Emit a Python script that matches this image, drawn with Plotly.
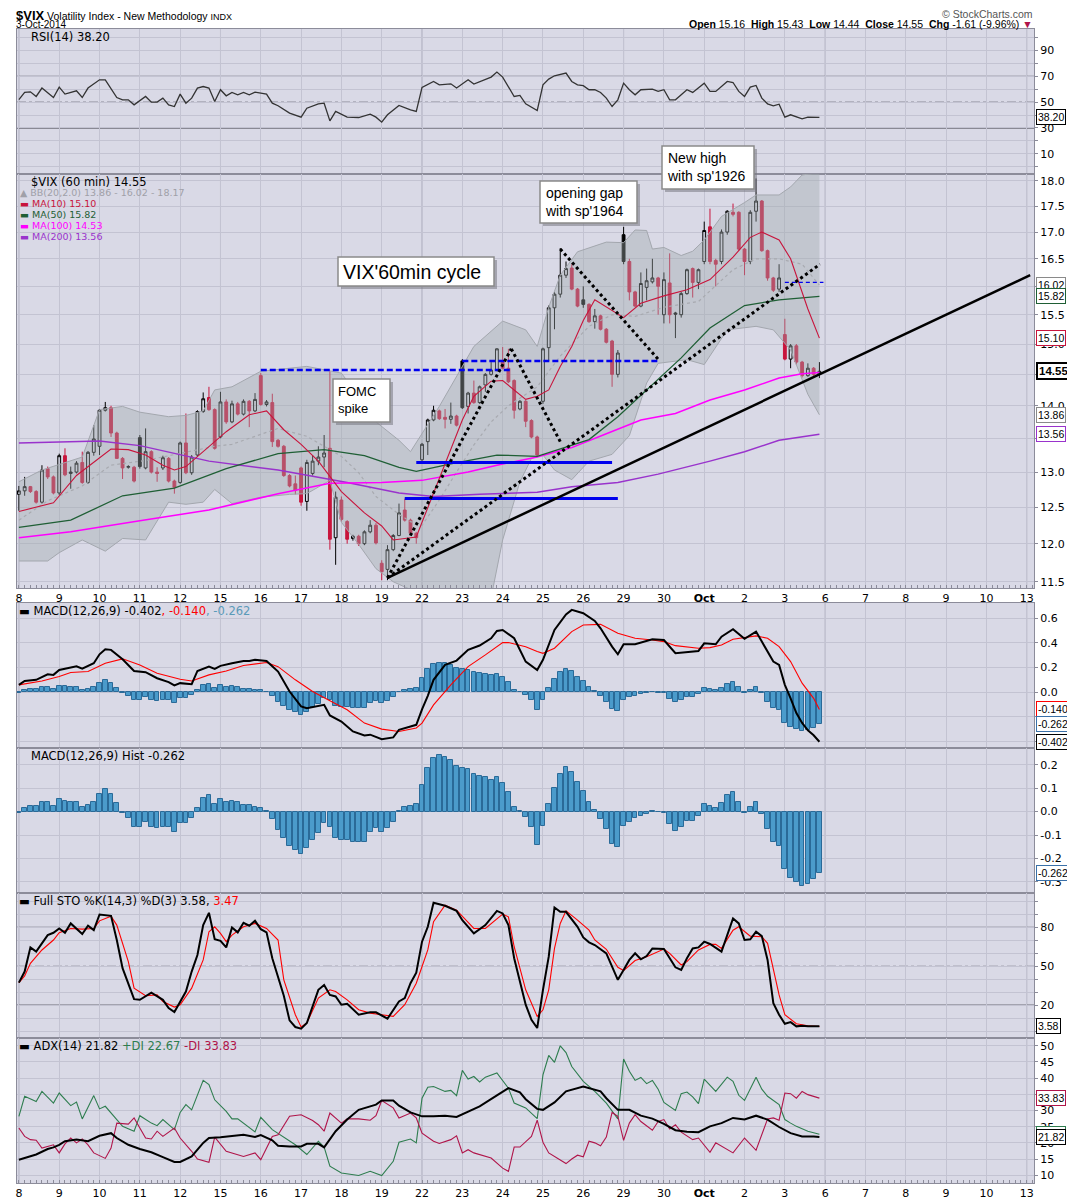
import math
import plotly.graph_objects as go

# ---- values: $VIX 60 min bars, 8-Sep-2014 .. 3-Oct-2014 ----
BARS_PER_DAY = 7
day_labels = ["8", "9", "10", "11", "12", "15", "16", "17", "18", "19",
              "22", "23", "24", "25", "26", "29", "30", "<b>Oct</b>", "2", "3",
              "6", "7", "8", "9", "10", "13"]
week_starts = [0, 5, 10, 15, 20, 25]   # day index of the Mondays

opens = [12.68, 12.73, 12.79, 12.72, 12.57, 13.05, 12.93, 12.70, 13.24, 12.98,
         13.00, 13.14, 12.85, 13.29, 13.38, 13.93, 13.97, 13.58, 13.20, 13.07,
         13.07, 13.51, 13.06, 13.30, 13.00, 13.06, 13.20, 12.87, 12.85, 13.43,
         12.99, 13.25, 13.91, 14.13, 13.94, 13.52, 14.06, 13.75, 14.03, 13.87,
         14.07, 13.92, 14.48, 14.02, 14.05, 13.47, 13.38, 12.95, 12.83, 13.06,
         12.58, 12.98, 13.16, 13.22, 13.35, 12.08, 12.60, 12.30, 12.07, 12.10,
         12.00, 12.16, 12.25, 11.74, 11.66, 11.92, 12.11, 12.46, 12.32, 12.14,
         13.18, 13.45, 13.78, 13.92, 13.82, 13.79, 13.84, 14.72, 13.99, 14.20,
         14.05, 14.33, 14.50, 14.57, 14.70, 14.60, 14.40, 13.95, 14.07, 13.77,
         13.52, 14.07, 14.94, 15.62, 15.86, 16.20, 16.33, 15.95, 15.76, 15.68,
         15.38, 15.48, 15.25, 15.05, 14.50, 16.95, 16.45, 15.90, 15.65, 15.98,
         16.08, 16.15, 15.50, 16.06, 15.53, 15.50, 15.87, 16.32, 16.07, 16.45,
         17.10, 16.47, 16.45, 17.00, 17.38, 17.38, 16.68, 16.45, 17.40, 17.60,
         16.65, 16.15, 15.95, 15.16, 14.75, 14.97, 14.70, 14.48, 14.60, 14.50]
highs = [12.80, 12.93, 12.80, 12.74, 13.10, 13.08, 12.95, 13.27, 13.35, 13.08,
         13.16, 13.30, 13.31, 13.70, 13.95, 14.06, 14.00, 13.60, 13.22, 13.10,
         13.09, 13.55, 13.65, 13.32, 13.07, 13.24, 13.22, 12.89, 13.45, 13.88,
         13.25, 13.93, 14.21, 14.30, 13.96, 14.22, 14.10, 14.08, 14.06, 14.10,
         14.09, 14.20, 14.52, 14.09, 14.19, 13.49, 13.40, 12.97, 12.95, 13.08,
         13.18, 13.25, 13.38, 13.55, 14.55, 12.72, 12.65, 12.32, 12.12, 12.12,
         12.18, 12.32, 12.28, 11.78, 11.98, 12.13, 12.55, 12.62, 12.34, 12.16,
         13.43, 13.80, 14.00, 13.94, 13.95, 14.05, 13.86, 14.75, 14.22, 14.40,
         14.32, 14.52, 14.70, 14.93, 14.95, 14.92, 14.42, 14.09, 14.09, 13.79,
         13.54, 14.94, 15.66, 15.90, 16.70, 16.45, 16.40, 15.97, 16.00, 15.70,
         15.60, 15.50, 15.27, 15.07, 14.90, 17.10, 16.50, 15.92, 16.25, 16.32,
         16.50, 16.17, 16.25, 16.60, 15.55, 15.90, 16.32, 16.34, 16.32, 17.20,
         17.45, 16.50, 17.05, 17.42, 17.55, 17.40, 16.70, 17.42, 18.05, 17.62,
         16.67, 16.17, 16.40, 15.43, 15.00, 15.00, 14.72, 14.68, 14.62, 14.70]
lows = [12.45, 12.66, 12.70, 12.55, 12.55, 12.90, 12.68, 12.67, 12.94, 12.76,
        12.98, 12.83, 12.83, 13.24, 13.25, 13.91, 13.52, 13.20, 12.90, 13.05,
        12.85, 13.05, 13.04, 12.98, 12.86, 13.03, 12.85, 12.69, 12.83, 12.97,
        12.96, 13.22, 13.89, 13.92, 13.33, 13.50, 13.72, 13.73, 13.85, 13.85,
        13.67, 13.90, 14.00, 13.99, 13.37, 13.36, 12.93, 12.78, 12.68, 12.52,
        12.45, 12.95, 13.10, 13.07, 11.92, 11.72, 12.30, 12.00, 12.04, 11.97,
        11.98, 12.14, 11.99, 11.52, 11.52, 11.90, 12.10, 12.30, 12.12, 12.00,
        13.12, 13.25, 13.76, 13.78, 13.65, 13.72, 13.68, 13.95, 13.88, 14.03,
        14.03, 14.22, 14.48, 14.55, 14.58, 14.36, 13.80, 13.93, 13.67, 13.50,
        13.23, 14.03, 14.72, 15.25, 15.80, 16.15, 15.93, 15.63, 15.62, 15.36,
        15.26, 15.23, 15.01, 14.30, 14.45, 16.40, 15.75, 15.63, 15.63, 15.75,
        16.05, 15.50, 15.35, 15.35, 15.10, 15.45, 15.85, 15.80, 15.95, 16.40,
        16.40, 16.00, 16.40, 16.95, 17.30, 16.65, 16.20, 16.40, 17.20, 16.63,
        16.10, 15.90, 15.90, 14.73, 14.60, 14.66, 14.45, 14.46, 14.47, 14.44]
closes = [12.73, 12.79, 12.72, 12.57, 13.03, 12.93, 12.70, 13.24, 12.96, 13.00,
          13.13, 12.85, 13.29, 13.49, 13.93, 13.97, 13.58, 13.20, 13.06, 13.08,
          12.87, 13.08, 13.30, 13.00, 12.98, 13.21, 12.87, 12.78, 13.43, 12.99,
          13.22, 13.91, 14.11, 13.94, 13.35, 14.06, 13.75, 14.03, 13.87, 14.07,
          13.92, 14.10, 14.02, 14.06, 13.45, 13.38, 12.95, 12.80, 12.74, 12.57,
          13.14, 13.16, 13.22, 13.28, 12.06, 12.64, 12.33, 12.06, 12.10, 12.00,
          12.16, 12.25, 12.01, 11.63, 11.92, 12.11, 12.42, 12.32, 12.14, 12.08,
          13.41, 13.78, 13.93, 13.80, 13.79, 13.84, 13.70, 13.97, 14.20, 14.05,
          14.30, 14.50, 14.57, 14.92, 14.60, 14.38, 13.93, 14.07, 13.76, 13.52,
          13.25, 14.92, 15.62, 15.86, 16.20, 16.32, 15.95, 15.65, 15.68, 15.38,
          15.48, 15.25, 15.03, 14.50, 14.85, 16.45, 15.90, 15.65, 16.05, 16.10,
          16.15, 16.00, 16.12, 15.50, 15.51, 15.87, 16.30, 16.07, 16.30, 17.03,
          16.45, 16.40, 17.00, 17.40, 17.34, 16.68, 16.45, 17.38, 17.60, 16.65,
          16.15, 15.93, 16.15, 14.75, 14.97, 14.70, 14.48, 14.60, 14.50, 14.55]

# overlays on the price pane (bar position, value)
bb_up_bar = [0, 4, 11, 14, 18, 21, 26, 29, 32, 34, 37, 42, 50, 54, 56, 59, 62, 66, 68, 73,
             79, 84, 88, 90, 92, 94, 97, 102, 105, 107, 109, 110, 112, 115, 117, 119, 122,
             126, 128, 132, 134, 136, 139]
bb_up = [12.86, 13.03, 13.22, 13.94, 13.99, 13.90, 13.83, 13.85, 13.92, 14.25, 14.30, 14.55,
         14.63, 14.55, 14.52, 14.15, 13.75, 13.47, 13.30, 13.99, 14.96, 15.39, 15.24, 14.96,
         15.63, 16.20, 16.63, 16.81, 16.80, 17.04, 17.03, 16.68, 16.71, 16.56, 16.64, 16.85,
         17.30, 17.57, 17.72, 17.72, 17.88, 18.12, 18.17]
bb_lo_bar = [0, 5, 7, 11, 15, 18, 22, 26, 29, 32, 34, 37, 42, 47, 50, 54, 56, 59, 62, 65,
             68, 72, 77, 82, 84, 87, 89, 91, 93, 96, 99, 103, 106, 109, 111, 116, 119, 123,
             128, 131, 134, 137, 139]
bb_lo = [11.77, 11.77, 11.88, 12.05, 11.90, 12.07, 12.05, 12.57, 12.54, 12.57, 12.75, 12.55,
         12.64, 12.68, 12.69, 12.88, 12.29, 11.99, 11.67, 11.50, 11.40, 11.20, 11.10, 11.30,
         12.05, 12.86, 13.20, 13.25, 13.03, 12.89, 13.16, 13.26, 13.54, 14.36, 14.68, 14.74,
         14.66, 15.24, 15.30, 15.24, 14.90, 14.18, 13.86]
bb_mid_bar = [0, 5, 11, 16, 22, 28, 34, 37, 45, 50, 56, 59, 62, 66, 68, 70, 73, 76, 79, 82,
              85, 90, 94, 99, 103, 107, 112, 118, 124, 128, 132, 136, 139]
bb_mid = [12.32, 12.59, 12.80, 13.10, 13.17, 13.27, 13.38, 13.41, 13.65, 13.53, 13.23, 12.99,
          12.65, 12.40, 12.30, 12.25, 12.60, 13.00, 13.40, 13.75, 14.00, 14.30, 14.80, 15.30,
          15.50, 15.47, 15.63, 15.73, 16.30, 16.50, 16.50, 16.40, 16.02]
ma10_bar = [0, 6, 10, 16, 19, 22, 25, 27, 29, 33, 36, 40, 43, 46, 49, 52, 56, 60, 63, 65,
            69, 70, 72, 75, 77, 79, 82, 84, 86, 88, 90, 92, 94, 96, 98, 100, 105, 108, 112,
            116, 120, 124, 127, 129, 132, 134, 137, 139]
ma10 = [12.44, 12.56, 12.95, 13.34, 13.33, 13.25, 13.10, 13.03, 13.08, 13.38, 13.60, 13.86,
        13.92, 13.63, 13.41, 13.16, 12.72, 12.42, 12.24, 12.05, 12.09, 12.29, 12.70, 13.33,
        13.78, 14.15, 14.39, 14.40, 14.25, 14.10, 14.15, 14.25, 14.63, 14.96, 15.40, 15.76,
        15.45, 15.70, 15.83, 15.94, 16.12, 16.53, 16.90, 17.00, 16.85, 16.50, 15.60, 15.10]
ma50_bar = [0, 9, 18, 27, 36, 45, 53, 60, 66, 69, 75, 83, 90, 93, 99, 104, 109, 115, 120,
            126, 132, 139]
ma50 = [12.22, 12.32, 12.66, 12.77, 13.05, 13.27, 13.33, 13.24, 13.07, 13.01, 13.12, 13.25,
        13.23, 13.31, 13.48, 13.83, 14.25, 14.77, 15.27, 15.66, 15.76, 15.82]
ma100_bar = [0, 9, 21, 33, 45, 54, 63, 70, 78, 83, 90, 96, 102, 108, 114, 120, 126, 132,
             136, 139]
ma100 = [12.08, 12.16, 12.31, 12.46, 12.69, 12.84, 12.85, 12.88, 13.00, 13.10, 13.22, 13.36,
         13.57, 13.78, 13.88, 14.09, 14.25, 14.44, 14.51, 14.53]
ma200_bar = [0, 14, 21, 33, 45, 57, 66, 72, 80, 90, 96, 104, 111, 120, 126, 132, 139]
ma200 = [13.43, 13.46, 13.39, 13.16, 13.03, 12.85, 12.70, 12.65, 12.68, 12.71, 12.79, 12.85,
         12.97, 13.16, 13.30, 13.47, 13.56]

# hand drawn lines on the price pane: ((bar, value), (bar, value))
trend_solid = [((64, 11.55), (175.6, 16.2))]
trend_dotted = [((64, 11.55), (85.5, 14.92)),
                ((64, 11.55), (139.1, 16.4)),
                ((85.5, 14.92), (94, 13.45)),
                ((94, 16.68), (111, 14.75))]
blue_dashed = [((42, 14.57), (85.5, 14.57)),
               ((77, 14.72), (111, 14.72))]
blue_dashed_thin = [((133, 16.07), (139.7, 16.07))]
blue_solid = [((69, 13.14), (103, 13.14)),
              ((67, 12.62), (104, 12.62))]

# RSI(14)
rsi_bar = [0, 1, 2, 3, 4, 6, 7, 8, 10, 11, 12, 14, 15, 17, 18, 19, 20, 22, 23, 24,
           25, 26, 27, 28, 29, 30, 31, 32, 33, 34, 35, 36, 37, 38, 39, 40, 41, 43, 44, 45,
           47, 49, 50, 52, 53, 54, 55, 57, 59, 60, 61, 62, 63, 64, 66, 68, 69, 70, 72, 73,
           75, 76, 78, 79, 81, 82, 83, 84, 86, 87, 88, 90, 91, 92, 93, 95, 96, 97, 98, 99,
           100, 101, 102, 103, 104, 105, 106, 107, 108, 110, 111, 112, 113, 114, 116, 117,
           119, 120, 121, 123, 124, 125, 126, 127, 128, 129, 130, 131, 132, 133, 134, 135,
           136, 137, 138, 139]
rsi = [52, 57.5, 58, 54.4, 60.9, 53.6, 61.6, 56.2, 58.8, 53.6, 60.9, 67.3, 67.3, 53.6, 51.8,
       51.8, 47.9, 54.4, 50, 50, 53.1, 47.9, 46.6, 56.2, 49.2, 53.1, 60.9, 62.1, 60.9, 50.5,
       59.6, 54.9, 57.5, 55.7, 57.5, 55.7, 57.8, 56.2, 49.2, 47.2, 41.5, 38.4, 45.3, 48.7,
       49.2, 35.5, 42.8, 38.4, 38.1, 39.4, 40.7, 38.4, 34.5, 40.2, 47.4, 44.1, 42.8, 61.4,
       66, 63.4, 64.2, 60.9, 67.3, 64, 67.8, 69.4, 73.3, 69.4, 54.4, 55.2, 48.7, 43.5, 63.4,
       67.8, 70.4, 72.5, 66, 63.4, 62.7, 59.6, 59.6, 57.5, 53.1, 46.6, 51.8, 64.7, 59.6,
       55.7, 59.6, 60.1, 58.3, 59.6, 51.8, 51.8, 59.6, 57.5, 64.7, 58.3, 58.3, 66, 65.2,
       58.3, 54.4, 61.6, 62.9, 53.1, 48.7, 47.2, 48.4, 38.4, 40.2, 38.9, 37.1, 38.4, 38.1,
       38.2]

# MACD(12,26,9)
macd_bar = [0, 1, 3, 5, 6, 7, 10, 11, 13, 14, 15, 16, 18, 20, 22, 24, 26, 27, 28, 30,
            31, 33, 34, 35, 37, 39, 40, 41, 43, 45, 47, 49, 50, 53, 54, 56, 58, 60, 61, 63,
            65, 66, 68, 69, 70, 71, 72, 74, 76, 78, 80, 82, 83, 84, 86, 88, 90, 91, 93, 95,
            96, 98, 100, 101, 103, 104, 105, 107, 110, 112, 114, 116, 118, 119, 121, 122,
            124, 126, 128, 129, 131, 132, 133, 134, 135, 136, 137, 138, 139]
macd = [0.059, 0.091, 0.1, 0.145, 0.14, 0.18, 0.21, 0.19, 0.235, 0.307,
        0.348, 0.343, 0.267, 0.172, 0.162, 0.113, 0.081, 0.054, 0.073, 0.065,
        0.172, 0.207, 0.189, 0.213, 0.235, 0.253, 0.253, 0.262, 0.253, 0.167,
        0.005, -0.116, -0.13, -0.103, -0.189, -0.238, -0.319, -0.351, -0.345, -0.381,
        -0.367, -0.305, -0.278, -0.265, -0.14, -0.03, 0.1, 0.221, 0.256, 0.343,
        0.378, 0.437, 0.496, 0.504, 0.437, 0.248, 0.18, 0.262, 0.504, 0.631,
        0.667, 0.64, 0.578, 0.518, 0.369, 0.307, 0.388, 0.388, 0.429, 0.423,
        0.316, 0.324, 0.334, 0.396, 0.388, 0.45, 0.51, 0.432, 0.491, 0.41,
        0.248, 0.221, 0.059, -0.05, -0.17, -0.25, -0.31, -0.35, -0.402]
signal_bar = [0, 4, 7, 9, 12, 15, 18, 21, 24, 28, 30, 33, 36, 39, 43, 45, 48, 51, 54, 57,
              60, 63, 66, 69, 70, 72, 75, 78, 81, 84, 85, 88, 90, 91, 93, 96, 98, 101, 104,
              107, 110, 112, 114, 118, 120, 122, 124, 128, 130, 132, 134, 136, 138, 139]
signal = [0.059, 0.091, 0.127, 0.159, 0.167, 0.235, 0.27, 0.221, 0.154, 0.105,
          0.091, 0.14, 0.172, 0.216, 0.24, 0.207, 0.1, 0.005, -0.07, -0.143,
          -0.251, -0.3, -0.319, -0.291, -0.251, -0.103, 0.059, 0.207, 0.302, 0.402,
          0.402, 0.369, 0.33, 0.315, 0.356, 0.491, 0.545, 0.55, 0.478, 0.437,
          0.423, 0.41, 0.377, 0.356, 0.361, 0.383, 0.429, 0.456, 0.437, 0.369,
          0.248, 0.073, -0.05, -0.14]
hist = [-0.007, 0.014, 0.024, 0.024, 0.04, 0.043, 0.026, 0.053, 0.047, 0.04,
        0.04, 0.019, 0.029, 0.043, 0.076, 0.096, 0.076, 0.036, -0.007, -0.029,
        -0.064, -0.067, -0.043, -0.064, -0.072, -0.064, -0.064, -0.086, -0.047, -0.05,
        -0.026, 0.014, 0.057, 0.069, 0.031, 0.054, 0.04, 0.047, 0.04, 0.029,
        0.029, 0.021, 0.017, 0.003, -0.031, -0.079, -0.114, -0.146, -0.165, -0.183,
        -0.157, -0.122, -0.093, -0.05, -0.064, -0.114, -0.122, -0.122, -0.129, -0.129,
        -0.129, -0.086, -0.072, -0.086, -0.072, -0.043, 0.003, 0.021, 0.026, 0.031,
        0.114, 0.186, 0.229, 0.24, 0.233, 0.222, 0.193, 0.186, 0.183, 0.16,
        0.153, 0.15, 0.136, 0.146, 0.122, 0.083, 0.019, 0.003, -0.024, -0.064,
        -0.143, -0.062, 0.031, 0.103, 0.16, 0.19, 0.169, 0.126, 0.09, 0.04,
        0.007, -0.033, -0.076, -0.14, -0.153, -0.062, -0.043, -0.029, -0.019, -0.01,
        0.003, -0.003, -0.007, -0.054, -0.082, -0.067, -0.04, -0.039, -0.019, 0.031,
        0.024, 0.014, 0.036, 0.069, 0.083, 0.04, -0.007, 0.019, 0.04, -0.01,
        -0.076, -0.132, -0.146, -0.247, -0.283, -0.3, -0.319, -0.308, -0.29, -0.262]

# Full STO %K(14,3) %D(3)
stok_bar = [0, 1, 2, 3, 5, 6, 7, 8, 9, 10, 11, 12, 13, 14, 16, 17, 18, 20, 21, 23,
            25, 26, 27, 29, 30, 31, 32, 33, 34, 35, 36, 37, 38, 39, 40, 41, 42, 43, 44, 46,
            47, 48, 49, 50, 52, 53, 54, 55, 56, 57, 59, 61, 62, 64, 66, 67, 68, 69, 70, 71,
            72, 74, 76, 77, 79, 81, 83, 84, 85, 86, 88, 89, 90, 91, 92, 93, 94, 95, 96, 97,
            98, 99, 100, 102, 103, 104, 105, 106, 107, 108, 109, 110, 112, 114, 115, 116,
            117, 118, 119, 120, 122, 123, 124, 125, 126, 127, 128, 129, 130, 131, 132, 133,
            134, 135, 136, 137, 139]
stok = [37.4, 45.9, 64.6, 61.3, 74.1, 75.9, 79.2, 75.9, 83.1, 79.2,
        74.9, 81.3, 77.9, 90, 89, 70.3, 48.5, 24.6, 24.1, 29.7,
        24.1, 17.7, 14.6, 30.5, 45.9, 58.7, 81.8, 91.3, 71, 69.7,
        64.6, 80, 76.2, 83.6, 81.3, 85.1, 78.7, 76.2, 56.2, 27.2,
        8.2, 3.1, 1.8, 6.2, 31.8, 35.6, 27.9, 26.7, 20.3, 21,
        12.6, 14.4, 14.4, 9.5, 22.8, 25.4, 36.9, 45.1, 69, 80.5,
        99, 96.7, 92.8, 85.6, 75.4, 81.8, 92.8, 90.8, 81.8, 56.2,
        20.3, 8.7, 2.3, 31.8, 57.4, 95.4, 92.1, 92.1, 86.2, 80.5,
        72.3, 68.5, 66.4, 60, 49.7, 39.5, 47.2, 54.9, 60, 55.4,
        57.9, 63.8, 63.3, 49.2, 47.2, 56.2, 63.8, 64.6, 69, 67.2,
        61.3, 74.6, 86.9, 83.1, 70.3, 70.8, 76.7, 73.3, 54.9, 21.5,
        12.6, 5.6, 6.9, 3.6, 4.1, 3.6, 3.58]
stod_bar = [0, 1, 2, 4, 6, 7, 9, 11, 13, 14, 16, 17, 19, 20, 22, 24, 25, 27, 28, 30,
            32, 33, 34, 35, 36, 37, 39, 41, 43, 45, 46, 48, 49, 50, 52, 54, 55, 57, 59, 61,
            63, 65, 67, 69, 71, 72, 74, 76, 79, 81, 84, 85, 86, 88, 90, 91, 92, 93, 94, 95,
            97, 99, 100, 102, 104, 105, 107, 109, 112, 113, 115, 116, 118, 120, 121, 122,
            124, 125, 127, 129, 130, 132, 133, 135, 137, 139]
stod = [37.4, 42.6, 52.3, 62.6, 70.3, 75.9, 79.2, 78.7, 79.2, 85.1,
        88.7, 81.8, 53.6, 33.1, 27.2, 27.9, 22.8, 18.5, 20.3, 33.1,
        54.9, 76.7, 80.5, 75.4, 69, 74.1, 80.5, 83.1, 79.2, 70.3,
        39.5, 12.6, 3.1, 6.2, 25.4, 31.8, 30.5, 24.1, 16.4, 13.8,
        12.6, 11.3, 20.3, 36.9, 62.6, 84.4, 97.2, 93.3, 79.2, 79.2,
        90.3, 88.2, 65.1, 31.8, 11.3, 16.4, 31.8, 63.8, 83.1, 92.8,
        85.6, 77.9, 70.3, 63.1, 49.2, 46.7, 54.4, 57.4, 63.3, 60,
        51, 53.6, 62.6, 66.9, 66.9, 63.8, 77.9, 80.5, 73.3, 72.8,
        67.7, 27.9, 12.6, 5.6, 4.1, 3.47]

# ADX(14), +DI, -DI
adx_bar = [0, 2, 3, 5, 6, 7, 8, 10, 12, 14, 16, 17, 19, 21, 23, 25, 27, 28, 30, 32,
           33, 35, 39, 41, 42, 44, 45, 47, 49, 50, 52, 53, 55, 57, 59, 62, 63, 65, 66, 68,
           70, 72, 74, 76, 78, 80, 83, 85, 87, 88, 90, 91, 93, 95, 98, 101, 102, 104, 106,
           108, 110, 112, 114, 116, 118, 120, 122, 124, 126, 128, 130, 132, 134, 136, 138,
           139]
adx = [14.8, 15.8, 16.4, 18.1, 18.6, 19.4, 20.5, 21, 20.5, 22.2,
       23, 21.5, 19.4, 18.1, 17.1, 15.6, 14.1, 14.1, 15.8, 20,
       21.5, 21.7, 22.5, 21.8, 22.4, 20.8, 19.1, 18.9, 18.9, 19.7,
       19.7, 18.6, 23.6, 27.2, 30.2, 31.8, 33.1, 33.1, 31.5, 29.4,
       28.2, 28.2, 28.4, 28, 29.7, 31.3, 34.7, 36.9, 35.6, 33.5,
       30.5, 30.2, 32.5, 35.9, 37.4, 35.9, 33.8, 30.2, 30.2, 28.4,
       27.5, 25.9, 23.9, 23.4, 23.3, 25.1, 26.1, 27.7, 27.2, 28.4,
       27.2, 24.9, 23, 22, 22, 21.82]
pdi_bar = [0, 1, 3, 4, 6, 7, 9, 10, 11, 13, 14, 15, 18, 20, 21, 23, 24, 25, 27, 28,
           29, 30, 32, 33, 34, 36, 37, 38, 41, 42, 44, 48, 50, 52, 53, 54, 56, 59, 61, 63,
           65, 66, 68, 69, 70, 71, 72, 74, 75, 76, 77, 78, 79, 80, 81, 83, 85, 86, 88, 90,
           91, 92, 93, 94, 95, 96, 98, 100, 102, 103, 104, 105, 106, 107, 108, 109, 110,
           111, 112, 114, 115, 116, 117, 118, 119, 121, 123, 124, 125, 126, 127, 128, 129,
           130, 132, 133, 134, 135, 137, 139]
pdi = [28.2, 34.4, 32.8, 35.9, 32.3, 35.4, 31.5, 32.6, 27.4, 34.6,
       30.5, 31.3, 25.1, 23.6, 28.4, 26.1, 25.3, 27.2, 24.1, 29.4,
       31.8, 30.2, 39.3, 38, 33.3, 29.7, 27.4, 27.4, 23.4, 27.9,
       24.1, 19.4, 16.4, 20.5, 18.7, 12.8, 10.7, 9.9, 11.2, 9.9,
       14.3, 20.2, 21.2, 20, 33.8, 37.2, 37.4, 35.9, 36.2, 34.6,
       42.4, 39.7, 40.5, 38.8, 40.3, 41.6, 36.9, 32.3, 30.8, 27.5,
       41, 47, 44.9, 50, 47.9, 43.6, 39, 35.9, 32.3, 29.7,
       27.4, 45.9, 42.1, 39.3, 40.2, 38.3, 39.3, 36.6, 32.5, 30,
       35.2, 35.7, 34.2, 32.1, 39.7, 35.9, 40.3, 39, 34.7, 33.1,
       36.6, 40.3, 36.6, 34.4, 31.8, 27.2, 26.1, 25.1, 23.6, 22.67]
mdi_bar = [0, 1, 2, 3, 4, 6, 7, 8, 9, 10, 11, 12, 13, 15, 16, 17, 19, 20, 22, 23,
           24, 25, 27, 28, 30, 31, 33, 34, 36, 39, 41, 42, 44, 45, 47, 49, 51, 52, 53, 54,
           56, 57, 59, 61, 62, 63, 65, 66, 68, 69, 70, 72, 73, 75, 76, 77, 78, 79, 82, 84,
           85, 86, 87, 89, 90, 91, 92, 93, 94, 95, 96, 97, 98, 99, 100, 101, 102, 103, 104,
           105, 106, 107, 108, 110, 111, 112, 113, 114, 115, 117, 118, 120, 121, 124, 126,
           128, 130, 131, 132, 133, 134, 135, 136, 137, 139]
mdi = [24.6, 22, 21, 20.8, 18.4, 19.4, 16.9, 19.7, 21.5, 20,
       21.2, 19.4, 16.9, 15.2, 18.4, 26.1, 25.8, 27.7, 21.5, 21.2,
       23.6, 22, 24.6, 21.5, 17.4, 15, 14, 21.8, 17.4, 15.8,
       16.9, 14.8, 22, 22.5, 28.2, 28.7, 26.9, 25.6, 23.6, 29.2,
       26.1, 27.4, 27.4, 27, 28.4, 33.1, 30.8, 27.7, 29.2, 27.7,
       23, 20.5, 19.8, 21, 22.2, 16.9, 17.9, 16.9, 15.3, 12.2,
       11.2, 18.7, 18.7, 22, 27, 20.2, 16.9, 15.8, 14.6, 13.6,
       15, 16.2, 15.7, 20.5, 20, 19.1, 21.8, 29.4, 28.2, 20.8,
       26.1, 28.7, 26.6, 23.9, 26.6, 27.2, 24.3, 25.6, 23.3, 21,
       21.5, 17.1, 20, 16.9, 21.5, 17.7, 27.4, 27.7, 27, 35.4,
       35.2, 33.8, 35.9, 34.9, 33.83]

# ---- look ----
BG = "#D9D9E6"
GRID = "#C3C3D2"
WEEK = "#A8A8B8"
FRAME = "#8C8C9A"
RED = "#C8143C"
MA10_C = "#C8143C"
MA50_C = "#1F5F35"
MA100_C = "#FF00FF"
MA200_C = "#9933CC"
HIST_C = "#4B9BCB"
HIST_EDGE = "#2A6A98"
FONT = "DejaVu Sans"
SANS = "Liberation Sans"

# the page puts the figure 8 px in from the top-left corner of the window
PAGE_OFF = 8
FIG_W, FIG_H = 1075 - PAGE_OFF, 1200 - PAGE_OFF
# plot area in window pixels
L, R, T, B = 17, 1034, 29, 1183


def px(x):
    return (x - L) / (R - L)


def py(y):
    return (B - y) / (B - T)


# pane id -> (top px, bottom px)
panes = [("", 29, 174), ("2", 174, 588), ("3", 603, 748),
         ("4", 748, 893), ("5", 893, 1038), ("6", 1038, 1183)]
x_range = [(L - 18.9) / 5.759, (R - 18.9) / 5.759]

fig = go.Figure()


def add_line(xs, ys, pane, color, width, dash=None):
    fig.add_trace(go.Scatter(x=xs, y=ys, xaxis="x" + pane, yaxis="y" + pane, mode="lines",
                             line=dict(color=color, width=width, dash=dash),
                             hoverinfo="skip", showlegend=False))


# RSI
add_line(rsi_bar, rsi, "", "#333333", 1.3)

# Bollinger band shading and lines
add_line(bb_up_bar, bb_up, "2", "#A3A7AE", 1)
fig.add_trace(go.Scatter(x=bb_lo_bar, y=bb_lo, xaxis="x2", yaxis="y2", mode="lines",
                         line=dict(color="#A3A7AE", width=1), fill="tonexty",
                         fillcolor="rgba(160,170,172,0.40)", hoverinfo="skip",
                         showlegend=False))
add_line(bb_mid_bar, bb_mid, "2", "#A8AAB0", 1.2, "dot")
add_line(ma200_bar, ma200, "2", MA200_C, 1.5)
add_line(ma100_bar, ma100, "2", MA100_C, 1.5)
add_line(ma50_bar, ma50, "2", MA50_C, 1.3)
add_line(ma10_bar, ma10, "2", MA10_C, 1.1)

# candles: black when close >= previous close, red otherwise; hollow when close > open
n = len(closes)
prev_close = [opens[0]] + closes[:-1]
for col, pick in (("black", lambda i: closes[i] >= prev_close[i]),
                  (RED, lambda i: closes[i] < prev_close[i])):
    idx = [i for i in range(n) if pick(i)]
    fig.add_trace(go.Candlestick(
        x=idx, open=[opens[i] for i in idx], high=[highs[i] for i in idx],
        low=[lows[i] for i in idx], close=[closes[i] for i in idx],
        xaxis="x2", yaxis="y2", whiskerwidth=0, hoverinfo="skip", showlegend=False,
        increasing=dict(line=dict(color=col, width=1), fillcolor="rgba(0,0,0,0)"),
        decreasing=dict(line=dict(color=col, width=1), fillcolor=col)))

# hand drawn lines
for (a, b) in blue_solid:
    add_line([a[0], b[0]], [a[1], b[1]], "2", "#0000EE", 3)
for (a, b) in blue_dashed:
    add_line([a[0], b[0]], [a[1], b[1]], "2", "#0000EE", 2.5, "6px,3px")
for (a, b) in blue_dashed_thin:
    add_line([a[0], b[0]], [a[1], b[1]], "2", "#0000EE", 1.2, "4px,3px")
for (a, b) in trend_dotted:
    add_line([a[0], b[0]], [a[1], b[1]], "2", "black", 3, "dot")
for (a, b) in trend_solid:
    add_line([a[0], b[0]], [a[1], b[1]], "2", "black", 2.5)

# MACD pane
bars_x = list(range(len(hist)))
for pane in ("3", "4"):
    fig.add_trace(go.Bar(x=bars_x, y=hist, xaxis="x" + pane, yaxis="y" + pane, width=0.82,
                         marker=dict(color=HIST_C, line=dict(color=HIST_EDGE, width=1)),
                         hoverinfo="skip", showlegend=False))
add_line(signal_bar, signal, "3", "#FF0000", 1.1)
add_line(macd_bar, macd, "3", "black", 2)

# stochastics
add_line(stod_bar, stod, "5", "#FF0000", 1.1)
add_line(stok_bar, stok, "5", "black", 2)

# ADX
add_line(pdi_bar, pdi, "6", "#2E7D4F", 1.1)
add_line(mdi_bar, mdi, "6", "#B0154A", 1.1)
add_line(adx_bar, adx, "6", "black", 2)

# ---- axes ----
day_ticks = [BARS_PER_DAY * k for k in range(len(day_labels))]
layout = dict(width=FIG_W, height=FIG_H, paper_bgcolor="white", plot_bgcolor=BG,
              margin=dict(l=L - PAGE_OFF, r=FIG_W - (R - PAGE_OFF), t=T - PAGE_OFF,
                          b=FIG_H - (B - PAGE_OFF), autoexpand=False),
              showlegend=False, bargap=0, barmode="overlay", hovermode=False)

y_cfg = {
    "": dict(range=[-5.6, 106.6], tickvals=list(range(0, 101, 10)),
             ticktext=[str(v) if v in (10, 30, 50, 70, 90) else "" for v in range(0, 101, 10)]),
    "2": dict(type="log", range=[math.log10(11.42), math.log10(18.14)],
              tickvals=[11.5 + 0.5 * k for k in range(14)],
              ticktext=["%.1f" % (11.5 + 0.5 * k) for k in range(14)]),
    "3": dict(range=[-0.453, 0.723], tickvals=[-0.4, -0.2, 0, 0.2, 0.4, 0.6],
              ticktext=["-0.4", "-0.2", "0.0", "0.2", "0.4", "0.6"]),
    "4": dict(range=[-0.348, 0.272], tickvals=[-0.3, -0.2, -0.1, 0, 0.1, 0.2],
              ticktext=["-0.3", "-0.2", "-0.1", "0.0", "0.1", "0.2"]),
    "5": dict(range=[-5.4, 106.6], tickvals=list(range(0, 101, 10)),
              ticktext=[str(v) if v in (20, 50, 80) else "" for v in range(0, 101, 10)]),
    "6": dict(range=[7.6, 52.4], tickvals=list(range(10, 51, 5)),
              ticktext=[str(v) for v in range(10, 51, 5)]),
}

for pane, top, bottom in panes:
    show_x = pane in ("2", "6")
    layout["xaxis" + pane] = dict(
        domain=[0, 1], anchor="y" + pane, range=x_range, tickmode="array",
        tickvals=day_ticks, ticktext=day_labels, showticklabels=show_x,
        showgrid=True, gridcolor=GRID, gridwidth=1, zeroline=False, automargin=False,
        showline=True, linecolor=FRAME, linewidth=1, mirror=True, ticks="",
        tickfont=dict(family=FONT, size=11, color="black"),
        minor=dict(tickmode="linear", tick0=0, dtick=1, ticks="inside" if show_x else "",
                   ticklen=3, tickcolor="#8C8C9A", showgrid=False),
        rangeslider=dict(visible=False), fixedrange=True)
    yc = dict(domain=[py(bottom), py(top)], anchor="x" + pane, side="right",
              showgrid=True, gridcolor=GRID, gridwidth=1, zeroline=False, automargin=False,
              showline=True, linecolor=FRAME, linewidth=1, mirror=True,
              ticks="outside", ticklen=3, tickcolor="#8C8C9A", tickmode="array",
              tickfont=dict(family=FONT, size=11, color="black"), fixedrange=True)
    yc.update(y_cfg[pane])
    layout["yaxis" + pane] = yc

shapes = []
# darker week separators
for pane, top, bottom in panes:
    for d in week_starts:
        shapes.append(dict(type="line", xref="x" + pane, yref="y%s domain" % pane,
                           x0=BARS_PER_DAY * d, x1=BARS_PER_DAY * d, y0=0, y1=1,
                           line=dict(color=WEEK, width=1), layer="below"))
# RSI and STO reference levels
for pane, lvls in (("", (70, 30, 50)), ("5", (80, 20, 50))):
    for k, v in enumerate(lvls):
        shapes.append(dict(type="line", xref="x%s domain" % pane, yref="y" + pane,
                           x0=0, x1=1, y0=v, y1=v, layer="below",
                           line=dict(color="#6E6E78", width=1.3 if k < 2 else 1,
                                     dash="solid" if k < 2 else "dashdot")))

# note boxes (window pixels): text, left, top, right, bottom, font size
notes = [("VIX'60min cycle", 338, 257, 494, 286, 19.5),
         ("FOMC<br>spike", 333, 379, 390, 422, 13),
         ("opening gap<br>with sp'1964", 540, 181, 637, 223, 14),
         ("New high<br>with sp'1926", 662, 146, 754, 189, 14)]
annotations = []
for text, x0, y0, x1, y1, fs in notes:
    shapes.append(dict(type="rect", xref="paper", yref="paper", x0=px(x0 + 3), x1=px(x1 + 3),
                       y0=py(y1 + 3), y1=py(y0 + 3), fillcolor="rgba(120,120,130,0.55)",
                       line=dict(width=0)))
    shapes.append(dict(type="rect", xref="paper", yref="paper", x0=px(x0), x1=px(x1),
                       y0=py(y1), y1=py(y0), fillcolor="white",
                       line=dict(color="#8A8A8A", width=1.5)))
    annotations.append(dict(xref="paper", yref="paper", x=px(x0 + 3), y=py((y0 + y1) / 2),
                            xanchor="left", yanchor="middle", align="left", showarrow=False,
                            text=text, font=dict(family=SANS, size=fs, color="black")))


def note(x, y, text, size=11.5, family=FONT, xanchor="left", color="black"):
    annotations.append(dict(xref="paper", yref="paper", x=px(x), y=py(y), xanchor=xanchor,
                            yanchor="middle", showarrow=False, text=text,
                            font=dict(family=family, size=size, color=color)))


# header (kept just inside the figure's top edge)
note(14, 15, "<b><span style='font-size:13px'>$VIX</span></b> Volatility Index - New Methodology "
     "<span style='font-size:9px'>INDX</span>", size=10.5, family=SANS)
note(14, 24.5, "3-Oct-2014", size=10, family=SANS)
note(1035, 14.5, "© StockCharts.com", size=10.5, family=SANS, xanchor="right", color="#555555")
note(1035, 24.5, "<b>Open</b> 15.16  <b>High</b> 15.43  <b>Low</b> 14.44  <b>Close</b> 14.55  "
     "<b>Chg</b> -1.61 (-9.96%) <span style='color:#B0154A'>▼</span>",
     size=10.5, family=SANS, xanchor="right")

# pane legends
note(29, 37, "RSI(14) 38.20")
note(29, 182, "$VIX (60 min) 14.55")
note(18, 192.5, "<span style='color:#A0A0A8'>▲ BB(20,2.0) 13.86 - 16.02 - 18.17</span>", size=9.5)
for k, (label, col) in enumerate((("MA(10) 15.10", MA10_C), ("MA(50) 15.82", MA50_C),
                                  ("MA(100) 14.53", MA100_C), ("MA(200) 13.56", MA200_C))):
    note(18, 203.5 + 11 * k, "<span style='color:%s'>▬ %s</span>" % (col, label), size=9.5)
note(17, 611, "▬ MACD(12,26,9) -0.402<span style='color:#FF0000'>, -0.140</span>"
     "<span style='color:#5A9AB8'>, -0.262</span>")
note(29, 756, "MACD(12,26,9) Hist -0.262")
note(17, 901, "▬ Full STO %K(14,3) %D(3) 3.58, <span style='color:#FF0000'>3.47</span>")
note(17, 1046, "▬ ADX(14) 21.82 <span style='color:#2E7D4F'>+DI 22.67</span> "
     "<span style='color:#B0154A'>-DI 33.83</span>")


# value badges at the right edge
def badge(pane, value, text, color, bold=False, log=False):
    annotations.append(dict(
        xref="paper", yref="y" + pane, x=px(1036), y=math.log10(value) if log else value,
        xanchor="left", yanchor="middle", showarrow=False,
        text="<b>%s</b>" % text if bold else text,
        font=dict(family=SANS, size=11.5 if bold else 10.5, color="black"),
        bgcolor="white", bordercolor=color, borderwidth=2 if bold else 1, borderpad=1))


badge("", 38.20, "38.20", "black")
badge("2", 16.02, "16.02", "#8A8A8A", log=True)
badge("2", 15.82, "15.82", MA50_C, log=True)
badge("2", 15.10, "15.10", MA10_C, log=True)
badge("2", 14.55, "14.55", "black", bold=True, log=True)
badge("2", 13.86, "13.86", "#8A8A8A", log=True)
badge("2", 13.56, "13.56", MA200_C, log=True)
badge("3", -0.140, "-0.140", "#FF0000")
badge("3", -0.262, "-0.262", "#3A70A8")
badge("3", -0.402, "-0.402", "black")
badge("4", -0.262, "-0.262", "#3A70A8")
badge("5", 3.58, "3.58", "black")
badge("6", 33.83, "33.83", "#B0154A")
badge("6", 22.67, "22.67", "#2E7D4F")
badge("6", 21.82, "21.82", "black")

layout["shapes"] = shapes
layout["annotations"] = annotations
fig.update_layout(**layout)

fig.write_html("out.html")
